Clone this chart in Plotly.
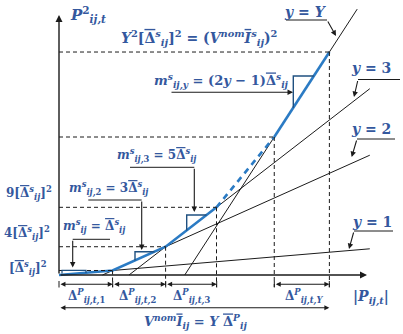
import plotly.graph_objects as go

# ---------------- data ----------------
# breakpoints of the piecewise-linear approximation of P^2 (Delta units)
x_breaks = [0.0, 1.02, 2.03, 3.0, 4.1, 5.15]
p2_levels = [0.0, 0.6, 3.76, 9.0, 18.35, 29.65]
# approximating lines: name, pair of breakpoint indices, x where drawn line ends
line_names = ["y = 1", "y = 2", "y = 3", "y = Y"]
line_pairs = [(0, 1), (1, 2), (2, 3), (4, 5)]
line_x_end = [5.92, 5.92, 5.92, 5.68]

# ---------------- layout helpers (pixel -> data) ----------------
UX, UY, OX, OY = 52.5, 7.52, 59.0, 275.0
def dx(px):
    return (px - OX) / UX
def dy(py):
    return (OY - py) / UY

TC = "#34589e"
FONT = "DejaVu Serif"
BLACK = "#1b1b1b"
BLUE = "#2b7bc4"
TRI = "#1f5080"
DB = "<span style='text-decoration:overline'>\u0394</span>"  # Delta with bar
IB = "<span style='text-decoration:overline'><i>I</i></span>"

fig = go.Figure()

# black approximating lines
for (a, b), xe in zip(line_pairs, line_x_end):
    xa, ya, xb, yb = x_breaks[a], p2_levels[a], x_breaks[b], p2_levels[b]
    s = (yb - ya) / (xb - xa)
    x0 = max(0.0, xa - ya / s)
    fig.add_trace(go.Scatter(x=[x0, xe], y=[ya + s * (x0 - xa), ya + s * (xe - xa)],
                             mode="lines", line=dict(color=BLACK, width=1),
                             hoverinfo="skip", showlegend=False))

# blue piecewise curve
fig.add_trace(go.Scatter(x=x_breaks[0:4], y=p2_levels[0:4], mode="lines",
                         line=dict(color=BLUE, width=2.6), showlegend=False))
fig.add_trace(go.Scatter(x=x_breaks[3:5], y=p2_levels[3:5], mode="lines",
                         line=dict(color=BLUE, width=2.6, dash="6px,5px"), showlegend=False))
fig.add_trace(go.Scatter(x=x_breaks[4:6], y=p2_levels[4:6], mode="lines",
                         line=dict(color=BLUE, width=2.6), showlegend=False))

shapes = []
DASH = "4px,3px"
# dashed guides
for xb, yb in zip(x_breaks[1:], p2_levels[1:]):
    shapes.append(dict(type="line", x0=0, x1=xb, y0=yb, y1=yb,
                       line=dict(color=BLACK, width=1, dash=DASH)))
    shapes.append(dict(type="line", x0=xb, x1=xb, y0=yb, y1=dy(287),
                       line=dict(color=BLACK, width=1, dash=DASH)))

# slope triangles (left x in px, top in px) placed on segments
def seg_y(i, x):
    xa, ya, xb, yb = x_breaks[i], p2_levels[i], x_breaks[i + 1], p2_levels[i + 1]
    return ya + (yb - ya) / (xb - xa) * (x - xa)
def seg_x(i, y):
    xa, ya, xb, yb = x_breaks[i], p2_levels[i], x_breaks[i + 1], p2_levels[i + 1]
    return xa + (y - ya) * (xb - xa) / (yb - ya)
for seg, lpx, tpy in [(1, 135, 251.7), (2, 186.7, 215), (4, 293.3, 76)]:
    xl, yt = dx(lpx), dy(tpy)
    shapes.append(dict(type="path",
                       path=f"M {xl},{seg_y(seg, xl)} L {xl},{yt} L {seg_x(seg, yt)},{yt}",
                       line=dict(color=TRI, width=1.4)))
shapes.append(dict(type="path",
                   path=f"M {dx(62)},{dy(273.5)} L {dx(62)},{dy(270.3)} L {dx(86)},{dy(270.3)} L {dx(86)},{dy(273)}",
                   line=dict(color=TRI, width=1.2)))

# leader polylines (px)
leaders = [
    [(286, 20), (327, 20)],
    [(358, 79.5), (400, 79.5)],
    [(357, 139), (395, 139)],
    [(354, 231), (393, 231)],
    [(130, 167.3), (194.3, 167.3)],
    [(88.3, 200), (141.7, 200)],
    [(110, 239.3), (72.7, 239.3)],
]
for pts in leaders:
    p = " L ".join(f"{dx(a)},{dy(b)}" for a, b in pts)
    shapes.append(dict(type="path", path="M " + p, line=dict(color=BLACK, width=1)))

ann = []
def arrow(tail, head, both=False, w=1.1, size=1.0):
    ann.append(dict(x=dx(head[0]), y=dy(head[1]), ax=dx(tail[0]), ay=dy(tail[1]),
                    xref="x", yref="y", axref="x", ayref="y", text="", showarrow=True,
                    arrowhead=2, arrowsize=size, arrowwidth=w, arrowcolor=BLACK,
                    standoff=0, startstandoff=0,
                    arrowside="end+start" if both else "end",
                    startarrowhead=2, startarrowsize=size))

# axes
arrow((59, 275), (59, 15), w=1.4)
arrow((59, 275), (367, 275), w=1.4)
# leader arrows
arrow((327, 20), (336, 36))
arrow((358, 79.5), (354, 97))
arrow((357, 139), (351.7, 157))
arrow((354, 231), (349, 249))
arrow((170, 92.3), (293, 92.3))
arrow((194.3, 167.3), (194.3, 212))
arrow((141.7, 200), (141.7, 250))
arrow((72.7, 239.3), (72.7, 267.5))
# dimension arrows
for a, b in [(59, 112.7), (112.7, 165.7), (165.7, 216.7), (274.3, 329.3)]:
    arrow((a, 284.3), (b, 284.3), both=True, size=0.9)
arrow((59, 307.7), (329.3, 307.7), both=True, size=0.9)
for xp in [59, 112.7, 165.7, 216.7, 274.3, 329.3]:
    shapes.append(dict(type="line", x0=dx(xp), x1=dx(xp), y0=dy(281), y1=dy(287.5),
                       line=dict(color=BLACK, width=1)))

def txt(s, xp, yp, size=14, anchor="center"):
    ann.append(dict(x=dx(xp), y=dy(yp), xref="x", yref="y", text="<b>" + s + "</b>",
                    showarrow=False, xanchor=anchor, yanchor="middle",
                    font=dict(family=FONT, size=size, color=TC)))

S = "<sup><i>s</i></sup><sub><i>ij</i></sub>"
txt("<i>P</i><sup>2</sup><sub><i>ij,t</i></sub>", 68, 14, 15, "left")
txt(f"<i>Y</i><sup>2</sup>[{DB}{S}]<sup>2</sup> = (<i>V</i><sup><i>nom</i></sup>{IB}{S})<sup>2</sup>", 199, 38, 14)
txt(f"<i>m</i><sup><i>s</i></sup><sub><i>ij,y</i></sub> = (2<i>y</i> − 1){DB}{S}", 221, 81, 13)
txt("<i>y</i> = <i>Y</i>", 305, 12, 14)
txt("<i>y</i> = 3", 371, 68, 14)
txt("<i>y</i> = 2", 371, 129, 14)
txt("<i>y</i> = 1", 372, 222, 14)
txt(f"<i>m</i><sup><i>s</i></sup><sub><i>ij,</i>3</sub> = 5{DB}{S}", 156, 155, 12)
txt(f"<i>m</i><sup><i>s</i></sup><sub><i>ij,</i>2</sub> = 3{DB}{S}", 108, 188, 12)
txt(f"<i>m</i>{S} = {DB}{S}", 94, 226, 12)
txt(f"9[{DB}{S}]<sup>2</sup>", 29, 193, 12)
txt(f"4[{DB}{S}]<sup>2</sup>", 27, 233, 12)
txt(f"[{DB}{S}]<sup>2</sup>", 28, 268, 12)
for lab, xp in [("1", 86), ("2", 138), ("3", 192), ("<i>Y</i>", 304)]:
    txt(f"Δ<sup><i>P</i></sup><sub><i>ij,t,</i>{lab}</sub>", xp, 296, 12)
txt("|<i>P</i><sub><i>ij,t</i></sub>|", 371, 297, 14)
txt(f"<i>V</i><sup><i>nom</i></sup>{IB}<sub><i>ij</i></sub> = <i>Y</i> {DB}<sup><i>P</i></sup><sub><i>ij</i></sub>", 195, 321, 13)

fig.update_layout(
    width=403, height=334, margin=dict(l=0, r=0, t=0, b=0),
    paper_bgcolor="white", plot_bgcolor="white",
    xaxis=dict(range=[dx(0), dx(403)], visible=False, fixedrange=True),
    yaxis=dict(range=[dy(334), dy(0)], visible=False, fixedrange=True),
    shapes=shapes, annotations=ann, showlegend=False,
)
fig.write_html("out.html", config=dict(displayModeBar=False),
               post_script="document.body.style.margin='0px';document.body.style.padding='0px';")
